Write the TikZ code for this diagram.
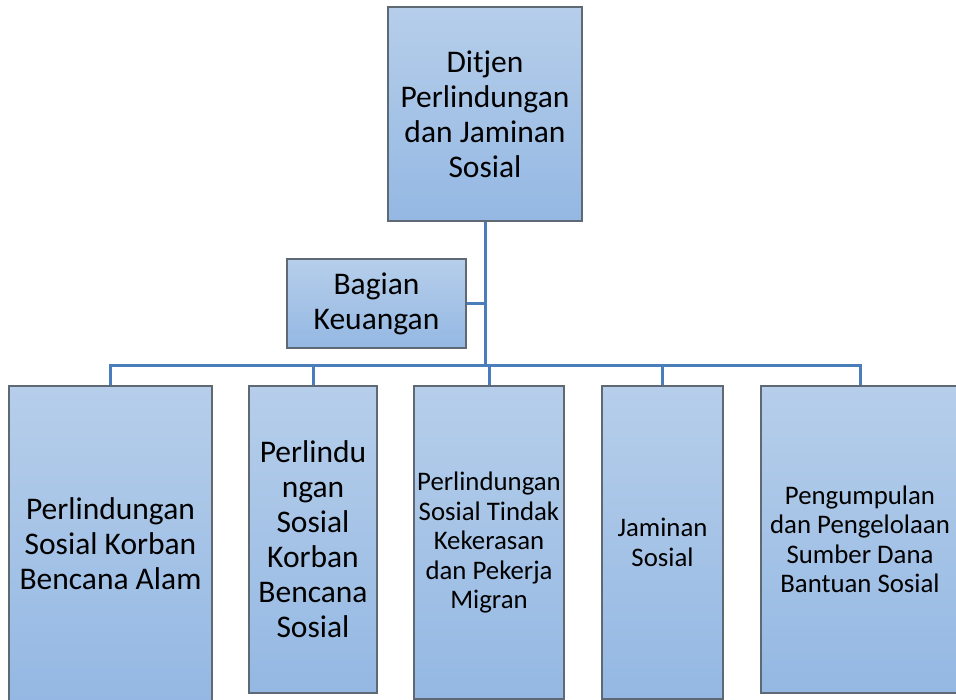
\documentclass[tikz,border=0pt]{standalone}
\usepackage{fontspec}
\setmainfont{Carlito}
\usetikzlibrary{calc}

\definecolor{boxtop}{RGB}{182,206,234}
\definecolor{boxbot}{RGB}{148,184,227}
\definecolor{boxline}{RGB}{95,105,115}
\definecolor{linkblue}{RGB}{74,126,187}

\tikzset{
  unit/.style={draw=boxline, line width=1.5pt, top color=boxtop, bottom color=boxbot, inner sep=0pt, align=center, font=\fontsize{31.5}{35}\selectfont},
  smalltext/.style={font=\fontsize{26.8}{29.5}\selectfont},
  link/.style={draw=linkblue, line width=3pt}
}

\begin{document}
\begin{tikzpicture}[x=1pt, y=-1pt]
\useasboundingbox (0,0) rectangle (956,700);
\clip (0,0) rectangle (956,700);

\node[unit, minimum width=194pt, minimum height=214pt] (T) at (485,114) {Ditjen\\Perlindungan\\dan Jaminan\\Sosial};
\node[unit, minimum width=179pt, minimum height=89pt] (K) at (376.5,303.5) {Bagian\\Keuangan};

\node[unit, minimum width=203pt, minimum height=316pt] (B1) at (110.5,544) {Perlindungan\\Sosial Korban\\Bencana Alam};
\node[unit, minimum width=128pt, minimum height=307pt] (B2) at (313,539.5) {Perlindu\\ngan\\Sosial\\Korban\\Bencana\\Sosial};
\node[unit, smalltext, minimum width=150pt, minimum height=313pt] (B3) at (489,542.5) {Perlindungan\\Sosial Tindak\\Kekerasan\\dan Pekerja\\Migran};
\node[unit, smalltext, minimum width=121pt, minimum height=313pt] (B4) at (662.5,542.5) {Jaminan\\Sosial};
\node[unit, smalltext, minimum width=198pt, minimum height=307pt] (B5) at (860,539.5) {Pengumpulan\\dan Pengelolaan\\Sumber Dana\\Bantuan Sosial};

\coordinate (bus) at (485,366);
\draw[link] (T.south) -- (T.south |- bus);
\draw[link] (K.east) -- (K.east -| bus);
\foreach \n in {B1,B2,B3,B4,B5}
  \draw[link] (\n.north) |- (bus);

\end{tikzpicture}
\end{document}
